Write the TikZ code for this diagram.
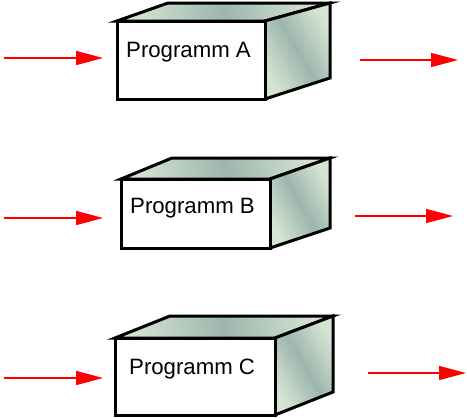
\documentclass[tikz,border=0pt]{standalone}
\usepackage{fontspec}
\setmainfont{Liberation Sans}
\usetikzlibrary{arrows.meta}
\definecolor{facelight}{HTML}{D6E5D3}
\definecolor{facedark}{HTML}{9DB6AE}
\tikzset{
  edge/.style={draw=black, line width=3pt, line join=miter},
  front/.style={edge, fill=white},
  side/.style={edge, left color=facelight, right color=facelight, middle color=facedark, shading angle=120},
  topface/.style={edge, left color=facelight, right color=facelight, middle color=facedark, shading angle=100},
  label/.style={anchor=base west, inner sep=0pt, font=\fontsize{22.2}{25}\selectfont},
  flow/.style={draw=red, line width=1.5pt, -{Triangle[length=27pt,width=14pt]}}
}
\begin{document}
\begin{tikzpicture}[x=1pt,y=-1pt]
\useasboundingbox (0,0) rectangle (467,418);
% Box A
\path[topface] (117,21) -- (168,3) -- (330,3) -- (265,21) -- cycle;
\path[side] (265,21) -- (330,3) -- (330,78) -- (265,99) -- cycle;
\path[front] (117,21) rectangle (265,99);
\node[label] (A) at (126,57) {Programm A};
% Box B
\path[topface] (121,179) -- (172,158) -- (330,158) -- (270,179) -- cycle;
\path[side] (270,179) -- (330,158) -- (330,228) -- (270,248) -- cycle;
\path[front] (121,179) rectangle (270,248);
\node[label] (B) at (130,213) {Programm B};
% Box C
\path[topface] (115,338) -- (170,316) -- (333,316) -- (275,338) -- cycle;
\path[side] (275,338) -- (333,316) -- (333,392) -- (275,415) -- cycle;
\path[front] (115,338) rectangle (275,415);
\node[label] (C) at (129,374) {Programm C};
% arrow end points
\coordinate (a1) at (4,58);   \coordinate (a2) at (103,58);
\coordinate (a3) at (360,60); \coordinate (a4) at (458,60);
\coordinate (b1) at (4,218);  \coordinate (b2) at (103,218);
\coordinate (b3) at (355,216);\coordinate (b4) at (453,216);
\coordinate (c1) at (4,378);  \coordinate (c2) at (103,378);
\coordinate (c3) at (368,373);\coordinate (c4) at (466,373);
\draw[flow] (a1) -- (a2);
\draw[flow] (a3) -- (a4);
\draw[flow] (b1) -- (b2);
\draw[flow] (b3) -- (b4);
\draw[flow] (c1) -- (c2);
\draw[flow] (c3) -- (c4);
\end{tikzpicture}
\end{document}
